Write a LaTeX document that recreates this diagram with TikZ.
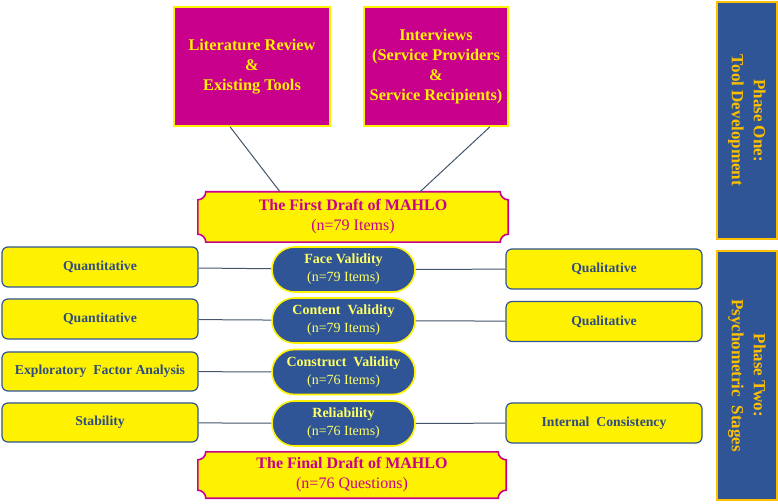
\documentclass[tikz,border=0pt]{standalone}
\usepackage{fontspec}
\setmainfont{Liberation Serif}
\usetikzlibrary{shapes.misc,backgrounds}
\definecolor{plum}{HTML}{C8008C}
\definecolor{navy}{HTML}{2F5597}
\definecolor{gold}{HTML}{FFC000}
\definecolor{inkblue}{HTML}{2E4C80}
\definecolor{wirecol}{HTML}{44546A}
\definecolor{paleyellow}{HTML}{FFFF66}

% plaque frame with hollow corners round a node
\newcommand{\draftframe}[1]{%
  \begin{pgfonlayer}{background}
  \draw[plum,line width=1.6pt,fill=yellow]
    ([xshift=8pt]#1.north west) -- ([xshift=-8pt]#1.north east)
    arc[start angle=180,end angle=270,radius=8pt]
    -- ([yshift=8pt]#1.south east)
    arc[start angle=90,end angle=180,radius=8pt]
    -- ([xshift=8pt]#1.south west)
    arc[start angle=0,end angle=90,radius=8pt]
    -- ([yshift=-8pt]#1.north west)
    arc[start angle=270,end angle=360,radius=8pt] -- cycle;
  \end{pgfonlayer}}

\begin{document}
\begin{tikzpicture}[x=1pt,y=1pt,
  srcbox/.style={draw=yellow,line width=1.5pt,fill=plum,text=yellow,align=center,
    font=\fontsize{16.3}{20}\selectfont\bfseries,minimum height=119pt,inner sep=0pt},
  sidebox/.style={draw=navy,line width=1.2pt,fill=yellow,rounded corners=6pt,text=inkblue,
    font=\fontsize{13.7}{16}\selectfont\bfseries,minimum width=196pt,minimum height=40pt,inner sep=0pt},
  stage/.style={rounded rectangle,draw=yellow,line width=1.6pt,fill=navy,text=paleyellow,align=center,
    font=\fontsize{14}{18}\selectfont,minimum width=143pt,minimum height=45pt,inner sep=0pt},
  draft/.style={text=plum,align=center,font=\fontsize{16}{20}\selectfont,inner sep=0pt},
  phase/.style={draw=gold,line width=1.5pt,fill=navy,text=gold,align=center,rotate=-90,
    font=\fontsize{17}{22}\selectfont\bfseries,minimum height=60pt,inner sep=0pt},
  wire/.style={draw=wirecol,line width=1pt}]
  \useasboundingbox (0,0) rectangle (778,503);

  % phase one
  \node[srcbox,minimum width=156pt] (lit) at (252,436.5) {Literature Review\\\&\\Existing Tools};
  \node[srcbox,minimum width=144pt] (intv) at (436,436.5) {Interviews\\(Service Providers\\\&\\Service Recipients)};
  \node[draft,minimum width=310pt,minimum height=50pt] (first) at (353,286)
    {\textbf{The First Draft of MAHLO}\\(n=79 Items)};
  \draftframe{first}
  \draw[wire] ([xshift=-22pt]lit.south) -- ([xshift=-73pt]first.north);
  \draw[wire] ([xshift=54pt]intv.south) -- ([xshift=67pt]first.north);

  % psychometric stages
  \node[stage] (face) at (343.5,233.5) {\textbf{Face Validity}\\(n=79 Items)};
  \node[stage] (content) at (343.5,182.5) {\textbf{Content\ \ Validity}\\(n=79 Items)};
  \node[stage] (construct) at (343.5,131) {\textbf{Construct\ \ Validity}\\(n=76 Items)};
  \node[stage] (rel) at (343.5,79.5) {\textbf{Reliability}\\(n=76 Items)};

  \node[sidebox] (quantA) at (100,236) {Quantitative};
  \node[sidebox] (quantB) at (100,184) {Quantitative};
  \node[sidebox,minimum height=39pt] (efa) at (100,131.5) {Exploratory\ \ Factor Analysis};
  \node[sidebox,minimum height=39pt] (stab) at (100,80.5) {Stability};
  \node[sidebox] (qualA) at (604,234) {Qualitative};
  \node[sidebox] (qualB) at (604,181.5) {Qualitative};
  \node[sidebox] (intcons) at (604,80) {Internal\ \ Consistency};

  \draw[wire] (quantA) -- (face);
  \draw[wire] (face) -- (qualA);
  \draw[wire] (quantB) -- (content);
  \draw[wire] (content) -- (qualB);
  \draw[wire] (efa) -- (construct);
  \draw[wire] (stab) -- (rel);
  \draw[wire] (rel) -- (intcons);

  \node[draft,minimum width=308pt,minimum height=46pt] (final) at (352,28)
    {\textbf{The Final Draft of MAHLO}\\(n=76 Questions)};
  \draftframe{final}

  % phase labels
  \node[phase,minimum width=237pt] (phaseone) at (747,382.5) {Phase One:\\Tool Development};
  \node[phase,minimum width=249pt] (phasetwo) at (747,127.5) {Phase Two:\\Psychometric\ \ Stages};
\end{tikzpicture}
\end{document}
